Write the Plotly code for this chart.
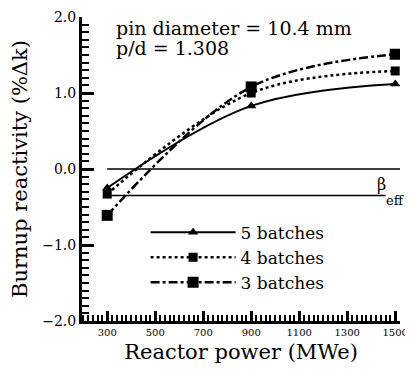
import plotly.graph_objects as go

power = [300, 900, 1500]
batch5 = [-0.25, 0.83, 1.12]
batch4 = [-0.33, 1.0, 1.29]
batch3 = [-0.61, 1.08, 1.51]

ref_zero_x = [300, 1520]
ref_zero_y = [0.0, 0.0]
ref_beta_x = [300, 1460]
ref_beta_y = [-0.35, -0.35]

x_range = [195, 1520]
y_range = [-2, 2]

serif = "DejaVu Serif"

fig = go.Figure()
fig.add_trace(go.Scatter(x=ref_zero_x, y=ref_zero_y, mode="lines",
                         line=dict(color="black", width=1.5), showlegend=False, hoverinfo="skip"))
fig.add_trace(go.Scatter(x=ref_beta_x, y=ref_beta_y, mode="lines",
                         line=dict(color="black", width=1.5), showlegend=False, hoverinfo="skip"))
fig.add_trace(go.Scatter(x=power, y=batch5, name="5 batches", mode="lines+markers",
                         line=dict(color="black", width=2, shape="spline"),
                         marker=dict(symbol="triangle-up", size=9, color="black")))
fig.add_trace(go.Scatter(x=power, y=batch4, name="4 batches", mode="lines+markers",
                         line=dict(color="black", width=2.5, dash="dot", shape="spline"),
                         marker=dict(symbol="square", size=9, color="black")))
fig.add_trace(go.Scatter(x=power, y=batch3, name="3 batches", mode="lines+markers",
                         line=dict(color="black", width=2.5, dash="dashdot", shape="spline"),
                         marker=dict(symbol="square", size=11, color="black")))
# invisible trace to carry the minor-tick overlay axes
fig.add_trace(go.Scatter(x=ref_zero_x, y=ref_zero_y, xaxis="x2", yaxis="y2", mode="lines",
                         line=dict(color="rgba(0,0,0,0)"), showlegend=False, hoverinfo="skip"))

fig.add_annotation(x=0.1, y=0.964, xref="paper", yref="paper", xanchor="left", yanchor="middle",
                   showarrow=False, text="pin diameter = 10.4 mm",
                   font=dict(family=serif, size=19, color="black"))
fig.add_annotation(x=0.1, y=0.898, xref="paper", yref="paper", xanchor="left", yanchor="middle",
                   showarrow=False, text="p/d = 1.308",
                   font=dict(family=serif, size=19, color="black"))
fig.add_annotation(x=1441, y=-0.2, xref="x", yref="y", showarrow=False, text="β",
                   font=dict(family=serif, size=16, color="black"))
fig.add_annotation(x=1500, y=-0.42, xref="x", yref="y", showarrow=False, text="eff",
                   font=dict(family=serif, size=13, color="black"))

fig.update_layout(
    template="none",
    width=413, height=369,
    margin=dict(l=74, r=21, t=9, b=56),
    paper_bgcolor="white", plot_bgcolor="white",
    font=dict(family=serif, color="black"),
    showlegend=True,
    legend=dict(x=0.2, y=0.35, xanchor="left", yanchor="top", itemwidth=85,
                bgcolor="rgba(0,0,0,0)", font=dict(family=serif, size=17, color="black"),
                tracegroupgap=0),
    xaxis=dict(range=x_range, tick0=300, dtick=200, automargin=False,
               showgrid=False, zeroline=False, showline=True, linecolor="black", linewidth=3,
               ticks="inside", ticklen=10, tickwidth=2.5, tickcolor="black",
               tickfont=dict(family=serif, size=10, color="black"),
               title=dict(text="Reactor power (MWe)", font=dict(family=serif, size=21, color="black"), standoff=8)),
    yaxis=dict(range=y_range, tick0=0, dtick=1, tickformat=".1f", automargin=False,
               showgrid=False, zeroline=False, showline=True, linecolor="black", linewidth=3,
               ticks="inside", ticklen=12, tickwidth=2.5, tickcolor="black",
               tickfont=dict(family=serif, size=14, color="black"),
               title=dict(text="Burnup reactivity (%Δk)", font=dict(family=serif, size=21, color="black"), standoff=20)),
    xaxis2=dict(overlaying="x", matches="x", range=x_range, tick0=300, dtick=20, side="bottom",
                showgrid=False, zeroline=False, showline=False, showticklabels=False,
                ticks="inside", ticklen=6, tickwidth=1.5, tickcolor="black"),
    yaxis2=dict(overlaying="y", matches="y", range=y_range, tick0=0, dtick=0.1, side="left",
                showgrid=False, zeroline=False, showline=False, showticklabels=False,
                ticks="inside", ticklen=7, tickwidth=1.5, tickcolor="black"),
)

fig.write_html("out.html")
